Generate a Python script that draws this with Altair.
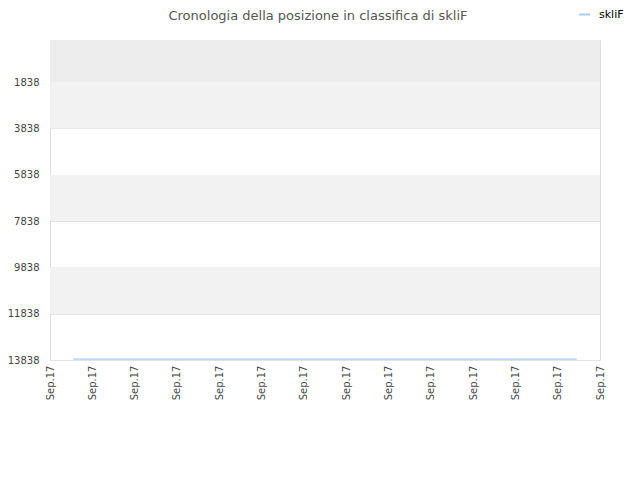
import altair as alt
import pandas as pd

# data
x_pos = [0.55, 2, 4, 6, 8, 10, 12.45]
rank = [13800, 13800, 13800, 13800, 13800, 13800, 13800]
series = "skliF"
tick_values = [1838, 3838, 5838, 7838, 9838, 11838, 13838]
x_ticks = list(range(14))
x_label = "Sep.17"
band_start = [20, 1838, 5838, 9838]
band_end = [1838, 3838, 7838, 11838]
band_color = ["#ededed", "#f2f2f2", "#f2f2f2", "#f2f2f2"]

line_df = pd.DataFrame({"x": x_pos, "rank": rank, "player": [series] * len(x_pos)})
band_df = pd.DataFrame({"y": band_start, "y2": band_end, "c": band_color})

yscale = alt.Scale(domain=[20, 13838], reverse=True, nice=False, zero=False)
xscale = alt.Scale(domain=[0, 13], nice=False, zero=False)

bands = alt.Chart(band_df).mark_rect().encode(
    x=alt.value(0),
    x2=alt.value(550),
    y=alt.Y("y:Q", scale=yscale,
            axis=alt.Axis(values=tick_values, title=None, ticks=False, domain=False,
                          labelFont="DejaVu Sans", labelFontSize=10, labelColor="#444444",
                          labelPadding=11, gridColor="#e2e2e2", format="d")),
    y2="y2:Q",
    color=alt.Color("c:N", scale=None),
)

line = alt.Chart(line_df).mark_line(strokeWidth=1.3).encode(
    x=alt.X("x:Q", scale=xscale,
            axis=alt.Axis(values=x_ticks, title=None, ticks=False, domain=False, grid=False,
                          labelExpr=f"'{x_label}'", labelAngle=-90, labelAlign="right",
                          labelBaseline="middle", labelFont="DejaVu Sans", labelFontSize=10,
                          labelColor="#444444", labelPadding=5)),
    y=alt.Y("rank:Q", scale=yscale),
    color=alt.Color("player:N", scale=alt.Scale(domain=[series], range=["#a6cdf5"]),
                    legend=alt.Legend(title=None, orient="none", legendX=528, legendY=-32,
                                      symbolType="stroke", symbolStrokeWidth=2, symbolSize=120,
                                      labelFont="DejaVu Sans", labelFontSize=11,
                                      labelOffset=8, labelColor="#000000")),
)

chart = alt.layer(bands, line).properties(
    width=550,
    height=320,
    title=alt.TitleParams("Cronologia della posizione in classifica di skliF",
                          font="DejaVu Sans", fontSize=13, fontWeight="normal",
                          color="#555555", anchor="middle", dx=-7, offset=-15),
    autosize=alt.AutoSizeParams(type="none"),
    padding={"left": 42, "top": 32, "right": 30, "bottom": 80},
).configure_view(stroke="#dddddd").configure(background="white")

chart.save("out.html", embed_options={"renderer": "svg", "actions": False})
